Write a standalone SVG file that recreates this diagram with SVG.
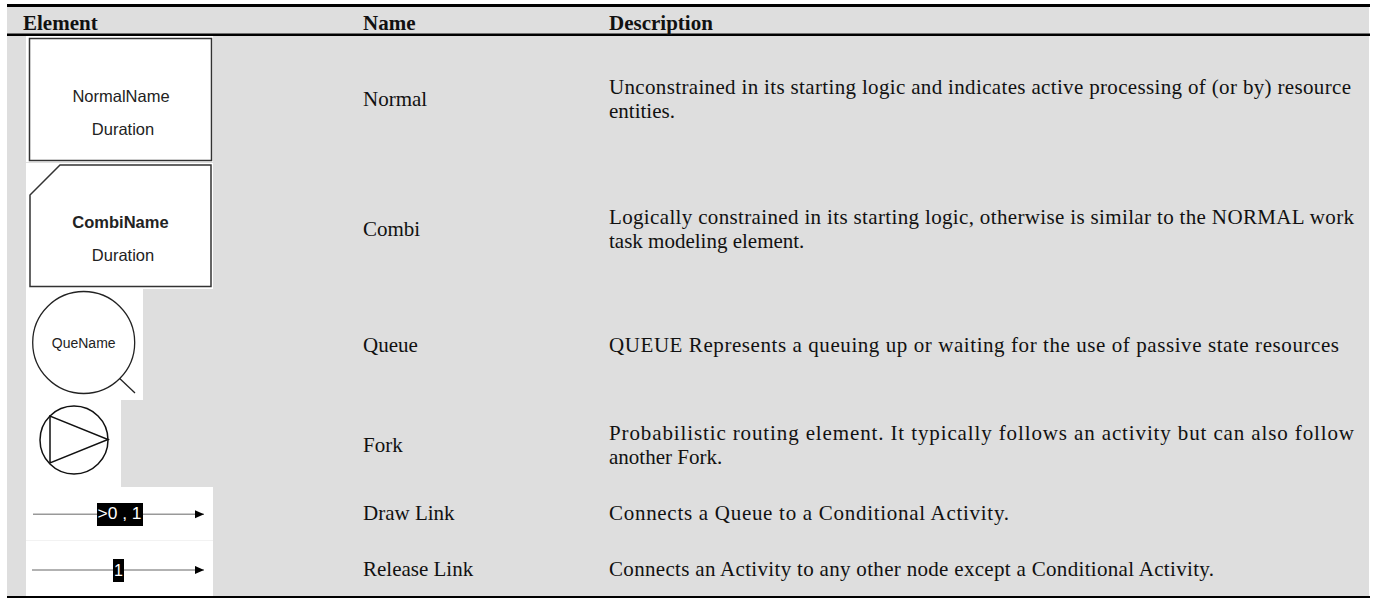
<svg xmlns="http://www.w3.org/2000/svg" width="1376" height="599" viewBox="0 0 1376 599">
<style>
.hd{font-family:"Liberation Serif",serif;font-weight:bold;font-size:21px;fill:#111}
.tx{font-family:"Liberation Serif",serif;font-size:21px;fill:#111}
.lb{font-family:"Liberation Sans",Arial,sans-serif;font-size:16.5px;fill:#222;text-anchor:middle}
.sh{fill:#fff;stroke:#333;stroke-width:1.5}
.fk{fill:none;stroke:#111;stroke-width:1.5}
.ln{stroke:#999;stroke-width:1.4}
.tag{fill:#000}
.tagt{font-family:"Liberation Sans",Arial,sans-serif;font-size:16px;fill:#fff}
</style>
<defs>
<marker id="ah" viewBox="0 0 10 10" refX="10" refY="5" markerWidth="10" markerHeight="9" markerUnits="userSpaceOnUse" orient="auto"><path d="M0,0.5 L10,5 L0,9.5 Z" fill="#000"/></marker>
</defs>
<rect x="0" y="0" width="1376" height="599" fill="#fff"/>
<rect x="7" y="7" width="1362" height="589" fill="#dedede"/>
<line x1="7" y1="5.5" x2="1370" y2="5.5" stroke="#000" stroke-width="3"/>
<line x1="7" y1="34.7" x2="1370" y2="34.7" stroke="#000" stroke-width="2.6"/>
<line x1="7" y1="597" x2="1370" y2="597" stroke="#000" stroke-width="2"/>
<g id="header">
<text class="hd" x="23" y="30">Element</text>
<text class="hd" x="363" y="30">Name</text>
<text class="hd" x="609" y="30">Description</text>
</g>
<g id="normal">
<rect x="26" y="36" width="187" height="126" fill="#fff"/>
<rect class="sh" x="29.5" y="38.5" width="182" height="122"/>
<text class="lb" x="121" y="101.7">NormalName</text>
<text class="lb" x="123" y="135">Duration</text>
<text class="tx" x="363" y="106">Normal</text>
<text class="tx" x="609" y="94" textLength="742" lengthAdjust="spacing">Unconstrained in its starting logic and indicates active processing of (or by) resource</text>
<text class="tx" x="609" y="118">entities.</text>
</g>
<g id="combi">
<rect x="26" y="163" width="187" height="126" fill="#fff"/>
<polygon class="sh" points="60,165 211,165 211,286.5 30,286.5 30,195"/>
<text class="lb" x="120.5" y="228.3" style="font-weight:bold">CombiName</text>
<text class="lb" x="123" y="261">Duration</text>
<text class="tx" x="363" y="236">Combi</text>
<text class="tx" x="609" y="224" textLength="745" lengthAdjust="spacing">Logically constrained in its starting logic, otherwise is similar to the NORMAL work</text>
<text class="tx" x="609" y="248">task modeling element.</text>
</g>
<g id="queue">
<rect x="26" y="289" width="117" height="111" fill="#fff"/>
<circle cx="83.7" cy="342.5" r="51" fill="none" stroke="#222" stroke-width="1.3"/>
<line x1="119.7" y1="378.5" x2="135" y2="393" stroke="#222" stroke-width="1.3"/>
<text class="lb" x="83.7" y="348.3" style="font-size:14px">QueName</text>
<text class="tx" x="363" y="352">Queue</text>
<text class="tx" x="609" y="352" textLength="730" lengthAdjust="spacing">QUEUE Represents a queuing up or waiting for the use of passive state resources</text>
</g>
<g id="fork">
<rect x="26" y="400" width="95" height="87" fill="#fff"/>
<circle class="fk" cx="74" cy="440" r="34"/>
<polygon class="fk" points="50,416 50,463 108,439.5"/>
<text class="tx" x="363" y="452">Fork</text>
<text class="tx" x="609" y="440" textLength="745" lengthAdjust="spacing">Probabilistic routing element. It typically follows an activity but can also follow</text>
<text class="tx" x="609" y="464">another Fork.</text>
</g>
<rect x="26" y="487" width="187" height="109" fill="#fff"/>
<line x1="26" y1="540.5" x2="213" y2="540.5" stroke="#f2f2f2" stroke-width="1"/>
<g id="connectors">
<line class="ln" x1="33" y1="514.3" x2="204" y2="514.3" marker-end="url(#ah)"/>
<line class="ln" x1="32" y1="570" x2="204" y2="570" marker-end="url(#ah)"/>
</g>
<g id="drawlink">
<rect class="tag" x="97" y="503" width="46" height="23"/>
<text class="tagt" x="97.5" y="519" textLength="44" lengthAdjust="spacingAndGlyphs">&gt;0 , 1</text>
<text class="tx" x="363" y="520">Draw Link</text>
<text class="tx" x="609" y="520" textLength="400" lengthAdjust="spacing">Connects a Queue to a Conditional Activity.</text>
</g>
<g id="releaselink">
<rect class="tag" x="113" y="559" width="11" height="23"/>
<text class="tagt" x="118.5" y="576" text-anchor="middle">1</text>
<text class="tx" x="363" y="576">Release Link</text>
<text class="tx" x="609" y="576" textLength="605" lengthAdjust="spacing">Connects an Activity to any other node except a Conditional Activity.</text>
</g>
</svg>
